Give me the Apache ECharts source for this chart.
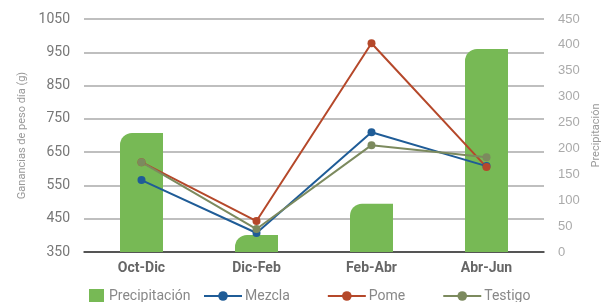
<!DOCTYPE html>
<html>
<head>
<meta charset="utf-8">
<script src="https://cdn.jsdelivr.net/npm/echarts@6/dist/echarts.min.js"></script>
<style>
  html, body { margin: 0; padding: 0; background: #fff; }
  #chart { width: 603px; height: 302px; }
</style>
</head>
<body>
<div id="chart"></div>
<script>
// datos
let periodos = ['Oct-Dic', 'Dic-Feb', 'Feb-Abr', 'Abr-Jun'];
let precipitacion = [230, 33, 93, 392];
let mezcla = [566, 407, 710, 608];
let pome = [620, 443, 977, 605];
let testigo = [620, 419, 671, 635];

let fuente = 'Roboto, Arial, sans-serif';

let myChart = echarts.init(document.getElementById('chart'));

myChart.setOption({
  backgroundColor: '#ffffff',
  animation: false,
  grid: {
    left: 84,
    right: 59,
    top: 19,
    bottom: 50,
    outerBoundsMode: 'none'
  },
  legend: [
    {
      left: 84,
      top: 284,
      itemWidth: 15,
      itemHeight: 15,
      itemGap: 8,
      textStyle: { color: '#888', fontSize: 14, fontFamily: fuente },
      data: [{ name: 'Precipitación', icon: 'rect' }]
    },
    {
      left: 198,
      top: 284,
      itemWidth: 38,
      itemHeight: 12,
      itemGap: 37,
      textStyle: { color: '#888', fontSize: 14, fontFamily: fuente, padding: [0, 0, 0, -2] },
      data: ['Mezcla', 'Pome', 'Testigo']
    }
  ],
  xAxis: {
    type: 'category',
    data: periodos,
    axisLine: { lineStyle: { color: '#333', width: 1.5 } },
    axisTick: { show: false },
    axisLabel: {
      color: '#666',
      fontSize: 14,
      fontWeight: 'bold',
      fontFamily: fuente,
      margin: 9
    }
  },
  yAxis: [
    {
      type: 'value',
      min: 350,
      max: 1050,
      interval: 100,
      name: 'Ganancias de peso día (g)',
      nameLocation: 'middle',
      nameRotate: 90,
      nameGap: 55,
      nameTextStyle: { color: '#999', fontSize: 11, fontFamily: fuente },
      axisLine: { show: false },
      axisTick: { show: false },
      axisLabel: {
        color: '#777',
        fontSize: 14,
        fontFamily: fuente,
        margin: 14,
        formatter: function (value) {
          return String(value);
        }
      },
      splitLine: { lineStyle: { color: '#aaa', width: 1.5 } }
    },
    {
      type: 'value',
      min: 0,
      max: 450,
      interval: 50,
      name: 'Precipitación',
      nameLocation: 'middle',
      nameRotate: 90,
      nameGap: 47,
      nameTextStyle: { color: '#999', fontSize: 11, fontFamily: fuente },
      axisLine: { show: false },
      axisTick: { show: false },
      axisLabel: { color: '#aaa', fontSize: 13, fontFamily: '"Liberation Sans", Arial, sans-serif', margin: 14 },
      splitLine: { show: false }
    }
  ],
  series: [
    {
      name: 'Precipitación',
      type: 'bar',
      yAxisIndex: 1,
      barWidth: 43,
      itemStyle: {
        color: '#77b955',
        borderRadius: [12, 0, 0, 0]
      },
      data: precipitacion
    },
    {
      name: 'Mezcla',
      type: 'line',
      symbol: 'circle',
      symbolSize: 8,
      itemStyle: { color: '#1f5c97' },
      lineStyle: { color: '#1f5c97', width: 2 },
      data: mezcla
    },
    {
      name: 'Pome',
      type: 'line',
      symbol: 'circle',
      symbolSize: 8,
      itemStyle: { color: '#b5482a' },
      lineStyle: { color: '#b5482a', width: 2 },
      data: pome
    },
    {
      name: 'Testigo',
      type: 'line',
      symbol: 'circle',
      symbolSize: 8,
      itemStyle: { color: '#7c8a5e' },
      lineStyle: { color: '#7c8a5e', width: 2 },
      data: testigo
    }
  ]
});
</script>
</body>
</html>
